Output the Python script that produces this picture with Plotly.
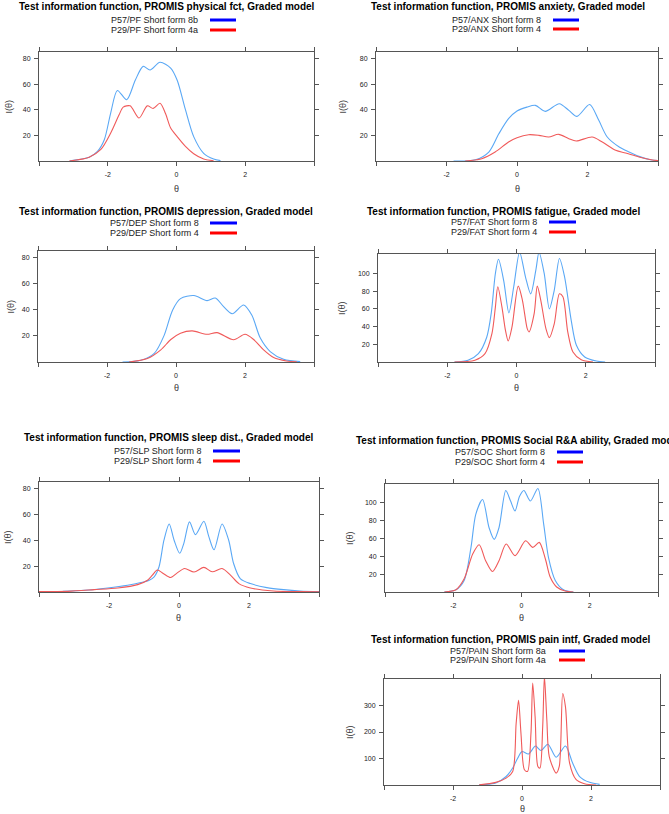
"""
Test information functions for PROMIS short forms (Graded model),
seven panels laid out in two columns like the lattice original.
"""

import plotly.graph_objects as go

W, H = 669, 814

BLUE = "#5aa8f5"
RED = "#f05a5a"
KEY_BLUE = "#0000ff"
KEY_RED = "#ff0000"

# ---- data: theta grid and information values ----
pf_theta_8b = [-3.1, -2.54, -2.3, -2.1, -1.91, -1.72, -1.45, -1.2, -0.97,
               -0.77, -0.48, -0.17, 0.02, 0.26, 0.5, 0.79, 1.08, 1.28]
pf_info_8b = [0.2, 3, 7.5, 16.6, 38, 55, 47.8, 63, 73.8,
              71, 77, 72.5, 63, 40, 19, 6, 1.5, 0.3]
pf_theta_4a = [-3.12, -2.54, -2.2, -1.91, -1.67, -1.55, -1.35, -1.09, -0.85,
               -0.68, -0.48, -0.32, -0.17, 0.02, 0.26, 0.5, 0.79, 1.08]
pf_info_4a = [0, 3, 9, 22, 36, 42, 43, 33.5, 43,
              41, 45, 37, 25.7, 19, 11.4, 5.7, 1.6, 0.2]

anx_theta_8 = [-1.8, -1.18, -0.8, -0.52, -0.24, 0, 0.28, 0.52, 0.8, 1.2,
               1.47, 1.7, 2.06, 2.32, 2.56, 2.9, 3.18, 3.46, 3.79, 4.0]
anx_info_8 = [0, 1, 7, 21, 33, 39, 42, 43.4, 38.7, 44.7,
              39.5, 34.8, 44, 31.7, 18.7, 10.9, 7, 3.6, 1, 0.3]
anx_theta_4 = [-1.47, -1.0, -0.62, -0.24, 0, 0.33, 0.62, 0.9, 1.18,
               1.47, 1.68, 2.13, 2.42, 2.8, 3.08, 3.46, 3.84, 4.0]
anx_info_4 = [0, 1.8, 7, 14.8, 18.2, 20.5, 20, 18.7, 20.8,
              17.4, 15.6, 18.7, 14.8, 8.3, 6.2, 3.1, 0.8, 0.3]

dep_theta_8 = [-1.55, -1.02, -0.63, -0.35, -0.1, 0.13, 0.52, 0.9, 1.14,
               1.38, 1.63, 1.96, 2.2, 2.44, 2.73, 3.12, 3.6]
dep_info_8 = [0, 1.3, 6.6, 20, 39.7, 48.5, 50.9, 47, 49,
              42.4, 37, 43.7, 35.8, 18.5, 8, 2.1, 0.3]
dep_theta_4 = [-1.36, -0.83, -0.44, -0.15, 0.13, 0.47, 0.9, 1.19,
               1.67, 2.0, 2.25, 2.54, 2.83, 3.2, 3.5]
dep_info_4 = [0, 2.6, 9.3, 17.2, 22, 23.8, 21.2, 22.5,
              17, 21.2, 17.2, 9.3, 3.4, 0.8, 0.2]

fat_theta_8 = [-1.79, -1.4, -1.1, -0.86, -0.73, -0.61, -0.52, -0.37, -0.22,
               -0.08, 0.09, 0.26, 0.41, 0.56, 0.65, 0.8, 0.95, 1.09, 1.24,
               1.39, 1.58, 1.73, 1.97, 2.31, 2.56]
fat_info_8 = [0, 2, 9.4, 28, 55, 100, 116, 92, 55.5,
              85, 124, 96, 77, 104, 124, 100, 60, 81, 117,
              96, 47, 18.9, 5.7, 1.1, 0]
fat_theta_4 = [-1.79, -1.2, -0.91, -0.71, -0.61, -0.54, -0.42, -0.32, -0.24,
               -0.13, 0.05, 0.17, 0.31, 0.36, 0.51, 0.6, 0.7, 0.85, 0.95,
               1.09, 1.24, 1.34, 1.48, 1.63, 1.87, 2.21]
fat_info_4 = [0, 2, 9.4, 32, 62, 85, 62, 36, 23.8,
              39.6, 85.7, 70, 37.7, 34, 54.7, 85.7, 70, 37.7, 27.5,
              43, 77, 73.6, 34, 11.3, 2.6, 0]

slp_theta_8 = [-3.32, -2.7, -2.04, -1.47, -1.09, -0.85, -0.71, -0.57, -0.43,
               -0.28, -0.14, 0.02, 0.14, 0.3, 0.47, 0.71, 0.85, 1.0, 1.23,
               1.42, 1.56, 1.75, 2.04, 2.51, 2.99, 3.46, 4.0]
slp_info_8 = [0.5, 1.3, 3.1, 5.2, 7.3, 9.1, 11.7, 19.5, 40,
              52.6, 40, 29.9, 37.8, 54.2, 44.3, 54.7, 43, 32.6, 52.6,
              40, 22, 10.4, 6.5, 3.4, 1.8, 0.8, 0.3]
slp_theta_4 = [-4.0, -3.18, -2.42, -1.75, -1.18, -0.9, -0.76, -0.62, -0.45,
               -0.24, -0.05, 0.16, 0.43, 0.71, 0.95, 1.23, 1.47, 1.71,
               2.04, 2.7, 3.46, 4.0]
slp_info_4 = [0.3, 0.5, 1.8, 3.1, 5.7, 9.1, 13, 17, 14.3,
              11.2, 14.8, 18.2, 15.4, 19, 15.6, 18.2, 13, 6.5,
              3.1, 0.8, 0.3, 0.1]

soc_theta_8 = [-2.26, -1.92, -1.68, -1.48, -1.34, -1.14, -0.95, -0.8, -0.66,
               -0.46, -0.32, -0.19, -0.06, 0.07, 0.26, 0.48, 0.65, 0.79,
               0.99, 1.23, 1.52]
soc_info_8 = [0, 2.6, 13, 50, 87, 103.7, 72, 59, 72,
              113.7, 101.9, 90.7, 107, 113.7, 101.9, 116, 76, 38.9,
              13, 2.6, 0]
soc_theta_4 = [-2.26, -1.92, -1.68, -1.43, -1.24, -1.05, -0.85, -0.66, -0.45,
               -0.19, 0.12, 0.33, 0.52, 0.7, 0.84, 1.03, 1.28, 1.52]
soc_info_4 = [0, 2.6, 14.8, 42.6, 53, 35, 23, 35, 53.7,
              40.7, 57.4, 50, 55.6, 37, 16.7, 5.6, 1.1, 0]

pain_theta_8a = [-1.24, -0.76, -0.46, -0.27, -0.13, 0.0, 0.19, 0.39, 0.55,
                 0.75, 0.99, 1.26, 1.47, 1.67, 1.96, 2.25]
pain_info_8a = [0.5, 7.5, 32, 64, 100, 126, 117, 147, 130,
                154, 105, 147, 82, 32, 10, 2.5]
pain_theta_4a = [-1.24, -0.76, -0.46, -0.27, -0.17, -0.1, -0.03, 0.07, 0.16,
                 0.26, 0.31, 0.38, 0.46, 0.52, 0.6, 0.65, 0.72, 0.79, 0.99,
                 1.08, 1.18, 1.26, 1.38, 1.57, 1.81, 2.15]
pain_info_4a = [0.5, 10, 26, 51, 232, 320, 195, 57.5, 51,
                195, 385, 257.5, 70, 64, 220, 410, 245, 107.5, 45,
                70, 345, 295, 82.5, 20, 5, 0]

x_ticks = [-4, -2, 0, 2, 4]
x_ticklabels = ["", "-2", "0", "2", ""]

# panel definitions: text, data, y axis, plus the box in pixels (l, r, t, b)
# title_xy is the title centre, or its left edge when title_left is set
panels = [
    dict(title="Test information function, PROMIS physical fct, Graded model",
         names=["P57/PF Short form 8b", "P29/PF Short form 4a"],
         curves=[(pf_theta_8b, pf_info_8b), (pf_theta_4a, pf_info_4a)],
         yrange=[0, 85], yticks=[20, 40, 60, 80],
         box=(39, 314, 52, 161), title_xy=(167, 6),
         legend=(200, 210, 236, 20, 30), ylab_x=9, theta_gap=28),
    dict(title="Test information function, PROMIS anxiety, Graded model",
         names=["P57/ANX Short form 8", "P29/ANX Short form 4"],
         curves=[(anx_theta_8, anx_info_8), (anx_theta_4, anx_info_4)],
         yrange=[0, 85], yticks=[20, 40, 60, 80],
         box=(376, 658, 52, 161), title_xy=(508, 6),
         legend=(543, 553, 579, 20, 29), ylab_x=343, theta_gap=28),
    dict(title="Test information function, PROMIS depression, Graded model",
         names=["P57/DEP Short form 8", "P29/DEP Short form 4"],
         curves=[(dep_theta_8, dep_info_8), (dep_theta_4, dep_info_4)],
         yrange=[0, 85], yticks=[20, 40, 60, 80],
         box=(38, 314, 251, 362), title_xy=(166, 211),
         legend=(201, 210, 237, 223, 233), ylab_x=10, theta_gap=26),
    dict(title="Test information function, PROMIS fatigue, Graded model",
         names=["P57/FAT Short form 8", "P29/FAT Short form 4"],
         curves=[(fat_theta_8, fat_info_8), (fat_theta_4, fat_info_4)],
         yrange=[0, 122], yticks=[20, 40, 60, 80, 100],
         box=(378, 655, 254, 362), title_xy=(504, 211),
         legend=(539, 549, 576, 222, 232), ylab_x=342, theta_gap=26),
    dict(title="Test information function, PROMIS sleep dist., Graded model",
         names=["P57/SLP Short form 8", "P29/SLP Short form 4"],
         curves=[(slp_theta_8, slp_info_8), (slp_theta_4, slp_info_4)],
         yrange=[0, 85], yticks=[20, 40, 60, 80],
         box=(39, 319, 482, 592), title_xy=(169, 437),
         legend=(203, 213, 240, 451, 461), ylab_x=8, theta_gap=26),
    dict(title="Test information function, PROMIS Social R&A ability, Graded model",
         names=["P57/SOC Short form 8", "P29/SOC Short form 4"],
         curves=[(soc_theta_8, soc_info_8), (soc_theta_4, soc_info_4)],
         yrange=[0, 121], yticks=[20, 40, 60, 80, 100],
         box=(385, 658, 484, 592), title_xy=(354, 440), title_left=True,
         legend=(547, 557, 583, 452, 462), ylab_x=350, theta_gap=26),
    dict(title="Test information function, PROMIS pain intf, Graded model",
         names=["P57/PAIN Short form 8a", "P29/PAIN Short form 4a"],
         curves=[(pain_theta_8a, pain_info_8a), (pain_theta_4a, pain_info_4a)],
         yrange=[0, 400], yticks=[100, 200, 300],
         box=(384, 660, 679, 785), title_xy=(511, 639),
         legend=(548, 559, 585, 651, 660), ylab_x=350, theta_gap=24),
]


def px_x(x):
    return x / W


def px_y(y):
    return 1 - y / H


def label(text, x, y, size, color, xanchor="center", **extra):
    """annotation placed by pixel position, anchored explicitly"""
    return dict(text=text, x=px_x(x), y=px_y(y), xref="paper", yref="paper",
                xanchor=xanchor, yanchor="middle", showarrow=False,
                font=dict(size=size, color=color), **extra)


def main():
    fig = go.Figure()
    annotations = []
    shapes = []
    layout = {}

    for i, p in enumerate(panels):
        n = "" if i == 0 else str(i + 1)
        l, r, t, b = p["box"]

        for (theta, info), col in zip(p["curves"], [BLUE, RED]):
            fig.add_trace(go.Scatter(
                x=theta, y=info, mode="lines",
                line=dict(color=col, width=1.1, shape="spline",
                          smoothing=0.8),
                xaxis="x" + n, yaxis="y" + n, showlegend=False,
                hoverinfo="skip"))

        common = dict(showline=True, mirror="ticks", linecolor="#555555",
                      linewidth=1, ticks="outside", ticklen=4,
                      tickcolor="#555555", showgrid=False, zeroline=False,
                      tickfont=dict(size=7, color="#222222"))
        layout["xaxis" + n] = dict(
            common, domain=[px_x(l), px_x(r)], range=[-4, 4],
            tickvals=x_ticks, ticktext=x_ticklabels, anchor="y" + n,
            ticklabelstandoff=3)
        layout["yaxis" + n] = dict(
            common, domain=[px_y(b), px_y(t)], range=p["yrange"],
            tickvals=p["yticks"], anchor="x" + n, ticklabelstandoff=2)

        # title, axis labels
        tx, ty = p["title_xy"]
        anchor = "left" if p.get("title_left") else "center"
        annotations.append(label("<b>" + p["title"] + "</b>", tx, ty,
                                 10, "#000000", xanchor=anchor))
        annotations.append(label("θ", (l + r) / 2, b + p["theta_gap"], 9,
                                 "#333333"))
        annotations.append(label("I(θ)", p["ylab_x"], (t + b) / 2, 9,
                                 "#333333", textangle=-90))

        # legend: text on the left, thick key line on the right
        text_end, key_l, key_r, y1, y2 = p["legend"]
        for name, yy, kc in zip(p["names"], [y1, y2], [KEY_BLUE, KEY_RED]):
            annotations.append(label(name, text_end, yy, 9, "#222222",
                                     xanchor="right"))
            shapes.append(dict(
                type="line", xref="paper", yref="paper",
                x0=px_x(key_l), x1=px_x(key_r), y0=px_y(yy), y1=px_y(yy),
                line=dict(color=kc, width=3)))

    fig.update_layout(
        **layout,
        width=W, height=H,
        margin=dict(l=0, r=0, t=0, b=0),
        paper_bgcolor="white", plot_bgcolor="white",
        font=dict(family="Liberation Sans, Arial, sans-serif"),
        annotations=annotations, shapes=shapes, showlegend=False)

    # page body has an 8px default margin; drop it so the figure fills
    # the window exactly
    fig.write_html("out.html", config={"displayModeBar": False},
                   post_script="document.body.style.margin='0';")


if __name__ == "__main__":
    main()
